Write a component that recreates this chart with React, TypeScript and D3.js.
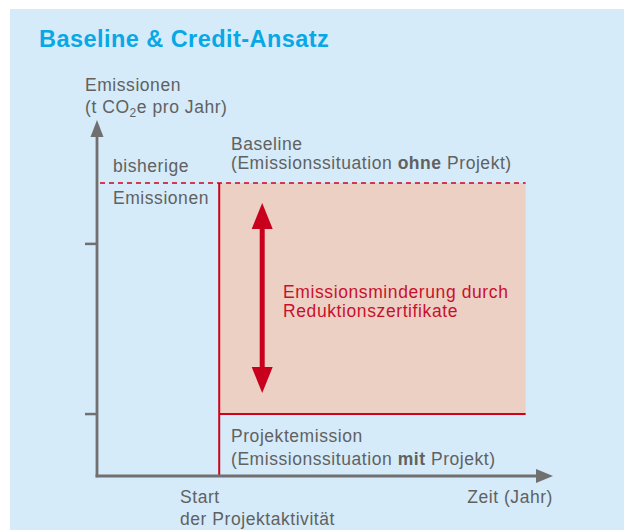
import * as d3 from "d3";

// schematic values (arbitrary units)
const timeDomain = [0, 100];
const emissionDomain = [0, 100];
const projectStart = 26.8;
const timeEnd = 94;
const baselineLevel = 82.3;
const projectLevel = 17.4;
const yTicks = [65.2, 17.4];
const reductionArrow = [76.7, 23.3];

const W = 624;
const H = 530;
const gray = "#616161";
const axisGray = "#707070";
const red = "#d0021b";
const font = "'Liberation Sans', Arial, Helvetica, sans-serif";

export default function App() {
  const x = d3.scaleLinear().domain(timeDomain).range([97, 553]);
  const y = d3.scaleLinear().domain(emissionDomain).range([476, 120]);

  const x0 = x(0);
  const y0 = y(0);
  const xs = x(projectStart);
  const xe = x(timeEnd);
  const yb = y(baselineLevel);
  const yp = y(projectLevel);
  const ax = x(projectStart) + 43;
  const aTop = y(reductionArrow[0]);
  const aBot = y(reductionArrow[1]);
  const head = 26;
  const hw = 10.5;

  return (
    <svg width={W} height={H} style={{ position: "absolute", left: 0, top: 0 }} fontFamily={font}>
      <rect x={10} y={9} width={W - 10} height={H - 9} fill="#d5ebf9" />
      <text x={39} y={47} fontSize={23.5} fontWeight="bold" fill="#07a8e6" letterSpacing={0.45}>
        Baseline &amp; Credit-Ansatz
      </text>

      {/* reduction area */}
      <rect x={xs} y={yb} width={xe - xs} height={yp - yb} fill="#ecd0c4" />
      <line x1={x0 + 3} x2={xe} y1={yb} y2={yb} stroke={red} strokeWidth={1.6} strokeDasharray="5,4" />
      <line x1={xs} x2={xs} y1={yb} y2={y0} stroke={red} strokeWidth={2} />
      <line x1={xs} x2={xe} y1={yp} y2={yp} stroke={red} strokeWidth={2} />

      {/* double arrow */}
      <line x1={ax} x2={ax} y1={aTop + head - 2} y2={aBot - head + 2} stroke="#c8001e" strokeWidth={5} />
      <path d={`M${ax},${aTop} L${ax - hw},${aTop + head} L${ax + hw},${aTop + head} Z`} fill="#c8001e" />
      <path d={`M${ax},${aBot} L${ax - hw},${aBot - head} L${ax + hw},${aBot - head} Z`} fill="#c8001e" />
      <text x={283} y={298} fontSize={17.5} fill="#c8102e" letterSpacing={0.6}>
        <tspan x={283}>Emissionsminderung durch</tspan>
        <tspan x={283} dy={19}>Reduktionszertifikate</tspan>
      </text>

      {/* axes */}
      {yTicks.map((t) => (
        <line key={t} x1={x0 - 12} x2={x0} y1={y(t)} y2={y(t)} stroke={axisGray} strokeWidth={2.5} />
      ))}
      <line x1={x0} x2={x0} y1={y0 + 1.25} y2={y(100) + 14} stroke={axisGray} strokeWidth={2.8} />
      <path d={`M${x0},${y(100)} L${x0 - 6.5},${y(100) + 17} L${x0 + 6.5},${y(100) + 17} Z`} fill={axisGray} />
      <line x1={x0 - 1.4} x2={x(100) - 14} y1={y0} y2={y0} stroke={axisGray} strokeWidth={2.8} />
      <path d={`M${x(100)},${y0} L${x(100) - 17},${y0 - 7} L${x(100) - 17},${y0 + 7} Z`} fill={axisGray} />

      <g fontSize={17.5} fill={gray} letterSpacing={0.55}>
        <text x={85} y={91}>Emissionen</text>
        <text x={85} y={113}>
          (t CO<tspan fontSize={12} dy={4}>2</tspan>
          <tspan dy={-4}>e pro Jahr)</tspan>
        </text>
        <text x={113} y={172}>bisherige</text>
        <text x={113} y={204}>Emissionen</text>
        <text x={231} y={150}>Baseline</text>
        <text x={231} y={169}>
          (Emissionssituation <tspan fontWeight="bold">ohne</tspan> Projekt)
        </text>
        <text x={231} y={442}>Projektemission</text>
        <text x={231} y={465}>
          (Emissionssituation <tspan fontWeight="bold">mit</tspan> Projekt)
        </text>
        <text x={180} y={503}>Start</text>
        <text x={180} y={525}>der Projektaktivität</text>
        <text x={553} y={503} textAnchor="end">Zeit (Jahr)</text>
      </g>
    </svg>
  );
}
